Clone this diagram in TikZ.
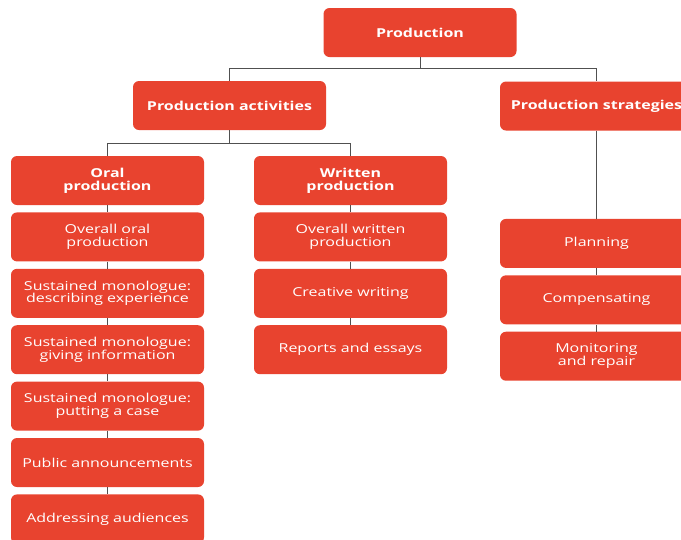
\documentclass[tikz,border=0pt]{standalone}
\usepackage{fontspec}
\setmainfont{Open Sans}[FakeStretch=1.3]
\usetikzlibrary{positioning}
\definecolor{prodred}{HTML}{E8432F}
\definecolor{linkgrey}{HTML}{505050}
\tikzset{
  box/.style={fill=prodred,rounded corners=6pt,minimum width=193pt,minimum height=49pt,
    text=white,align=center,inner sep=2pt,font=\fontsize{12.3}{12.8}\selectfont},
  head/.style={box,font=\fontsize{12.3}{12.8}\selectfont\bfseries},
  link/.style={draw=linkgrey,line width=1pt}
}

\begin{document}
\begin{tikzpicture}[x=1pt,y=-1pt]
      \useasboundingbox (0,0) rectangle (681,539);
      \clip (0,0) rectangle (681,539);
      \coordinate (p) at (420,32.5);
      \coordinate (a) at (229.5,105.5);
      \coordinate (s) at (596.5,106);
      \coordinate (o) at (107.5,180.5);
      \coordinate (w) at (350.5,180.5);

      \node[head] (prod) at (p) {Production};
      \node[head] (act) at (a) {Production activities};
      \node[head] (strat) at (s) {Production strategies};

      % oral column
      \node[head] (oral) at (o) {Oral\\production};
      \node[box,below=7pt of oral] (oral1) {Overall oral\\production};
      \node[box,below=7pt of oral1] (oral2) {Sustained monologue:\\describing experience};
      \node[box,below=7pt of oral2] (oral3) {Sustained monologue:\\giving information};
      \node[box,below=7pt of oral3] (oral4) {Sustained monologue:\\putting a case};
      \node[box,below=7pt of oral4] (oral5) {Public announcements};
      \node[box,below=7pt of oral5] (oral6) {Addressing audiences};

      % written column
      \node[head] (writ) at (w) {Written\\production};
      \node[box,below=7pt of writ] (writ1) {Overall written\\production};
      \node[box,below=7pt of writ1] (writ2) {Creative writing};
      \node[box,below=7pt of writ2] (writ3) {Reports and essays};

      % strategies column
      \node[box,below=88pt of strat] (strat1) {Planning};
      \node[box,below=7pt of strat1] (strat2) {Compensating};
      \node[box,below=7pt of strat2] (strat3) {Monitoring\\and repair};

      \draw[link] (prod.south) -- ++(0,11) -| (act.north);
      \draw[link] (prod.south) -- ++(0,11) -| (strat.north);
      \draw[link] (act.south) -- ++(0,13) -| (oral.north);
      \draw[link] (act.south) -- ++(0,13) -| (writ.north);
      \draw[link] (strat.south) -- (strat1.north);
      \draw[link] (strat1.south) -- (strat2.north);
      \draw[link] (strat2.south) -- (strat3.north);
      \draw[link] (oral.south) -- (oral1.north);
      \draw[link] (oral1.south) -- (oral2.north);
      \draw[link] (oral2.south) -- (oral3.north);
      \draw[link] (oral3.south) -- (oral4.north);
      \draw[link] (oral4.south) -- (oral5.north);
      \draw[link] (oral5.south) -- (oral6.north);
      \draw[link] (writ.south) -- (writ1.north);
      \draw[link] (writ1.south) -- (writ2.north);
      \draw[link] (writ2.south) -- (writ3.north);
    \end{tikzpicture}
\end{document}
